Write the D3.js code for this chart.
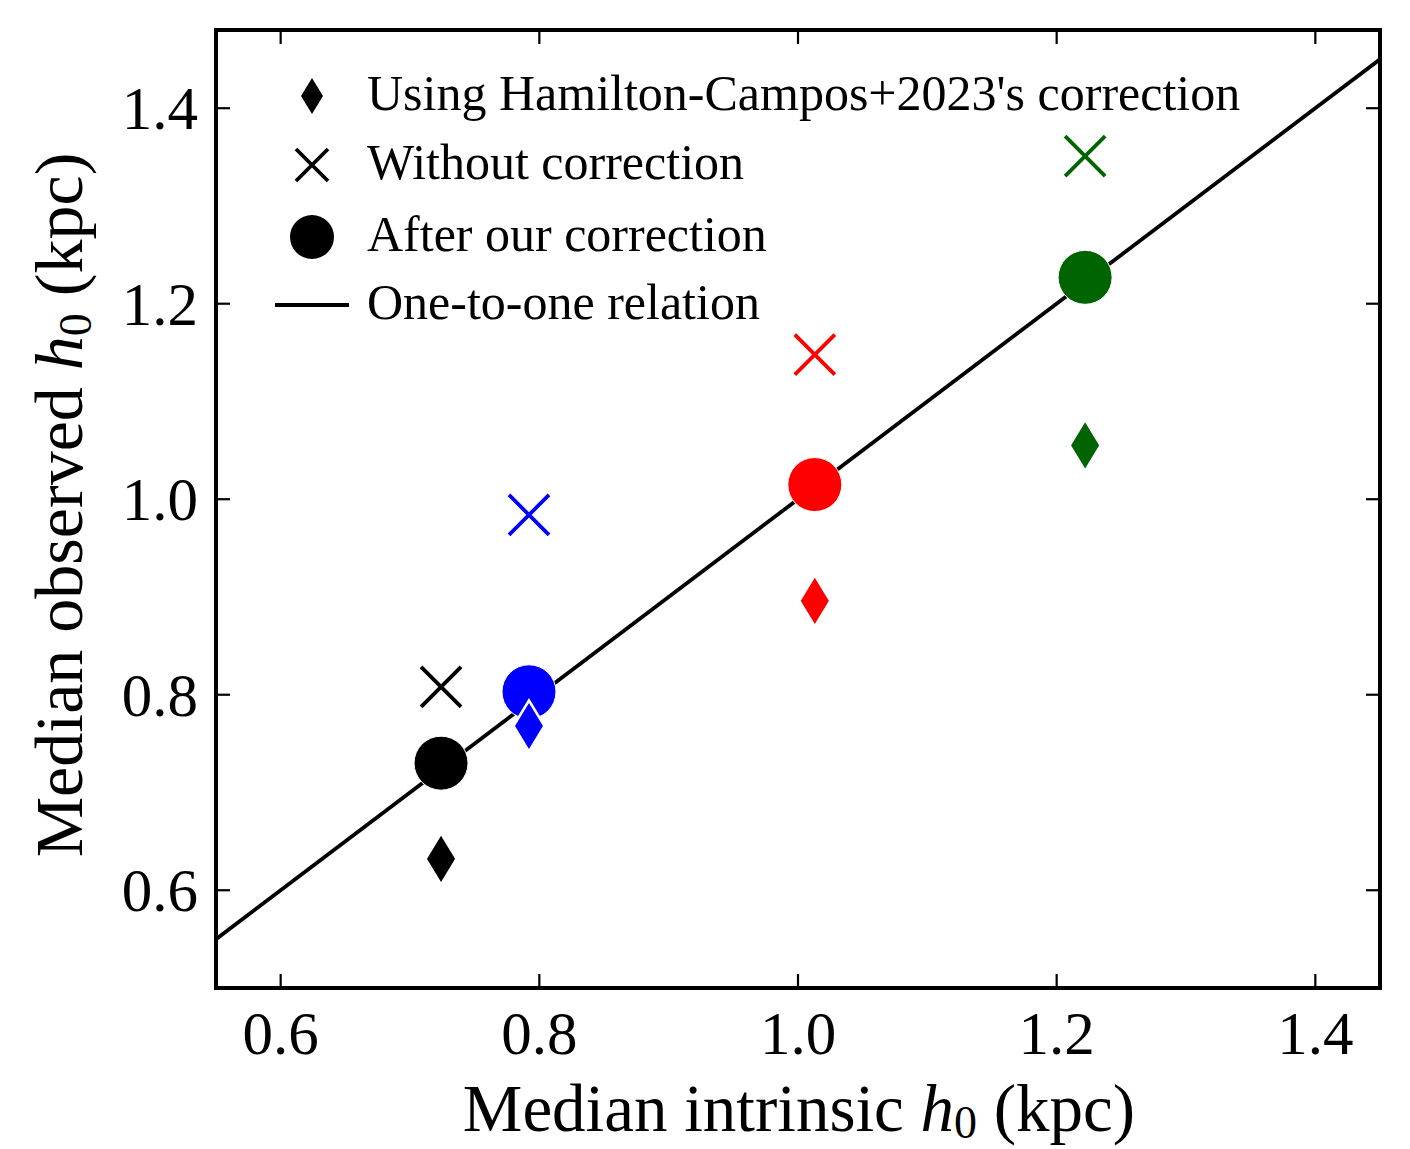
<!DOCTYPE html>
<html><head><meta charset="utf-8">
<script src="https://cdn.jsdelivr.net/npm/d3@7"></script>
<style>body{margin:0;background:#fff}svg{display:block}text{font-family:"Liberation Serif","Times New Roman",serif;fill:#000}</style>
</head><body><svg id="c" width="1410" height="1149"></svg>
<script>
// Data
const groups = ["g1", "g2", "g3", "g4"];
const colors = ["#000000", "#0000ff", "#ff0000", "#006400"];
const intrinsic = [0.724, 0.792, 1.013, 1.222];
const afterOurs = [0.730, 0.803, 1.015, 1.227];
const withoutCorr = [0.808, 0.984, 1.148, 1.351];
const hamiltonCorr = [0.632, 0.768, 0.896, 1.055];
const xTicks = [0.6, 0.8, 1.0, 1.2, 1.4];
const yTicks = [0.6, 0.8, 1.0, 1.2, 1.4];
const legendLabels = ["Using Hamilton-Campos+2023's correction", "Without correction", "After our correction", "One-to-one relation"];

const L = 216, R = 1380, T = 30, B = 988;
const svg = d3.select("#c");
const x = d3.scaleLinear().domain([0.55, 1.45]).range([L, R]);
const y = d3.scaleLinear().domain([0.5, 1.48]).range([B, T]);

svg.append("defs").append("clipPath").attr("id", "clip")
  .append("rect").attr("x", L).attr("y", T).attr("width", R - L).attr("height", B - T);

// one-to-one line
svg.append("line").attr("clip-path", "url(#clip)")
  .attr("x1", x(0.55)).attr("y1", y(0.55)).attr("x2", x(1.45)).attr("y2", y(1.45))
  .attr("stroke", "#000").attr("stroke-width", 3.8);

const diamond = (w, h) => `M0,${-h/2}L${w/2},0L0,${h/2}L${-w/2},0Z`;
const cross = (s) => `M${-s},${-s}L${s},${s}M${-s},${s}L${s},${-s}`;

const g = svg.append("g");
groups.forEach((k, i) => {
  g.append("path").attr("d", cross(20))
    .attr("transform", `translate(${x(intrinsic[i])},${y(withoutCorr[i])})`)
    .attr("stroke", colors[i]).attr("stroke-width", 3.8).attr("fill", "none");
});
groups.forEach((k, i) => {
  g.append("circle").attr("cx", x(intrinsic[i])).attr("cy", y(afterOurs[i])).attr("r", 27)
    .attr("fill", colors[i]).attr("stroke", "#fff").attr("stroke-width", 1);
});
groups.forEach((k, i) => {
  g.append("path").attr("d", diamond(31, 51))
    .attr("transform", `translate(${x(intrinsic[i])},${y(hamiltonCorr[i])})`)
    .attr("fill", colors[i]).attr("stroke", "#fff").attr("stroke-width", 2.5);
});

// frame
svg.append("rect").attr("x", L).attr("y", T).attr("width", R - L).attr("height", B - T)
  .attr("fill", "none").attr("stroke", "#000").attr("stroke-width", 4);

// ticks inward on all sides
const tl = 14;
xTicks.forEach(t => {
  svg.append("line").attr("x1", x(t)).attr("x2", x(t)).attr("y1", B).attr("y2", B - tl).attr("stroke", "#000").attr("stroke-width", 2.2);
  svg.append("line").attr("x1", x(t)).attr("x2", x(t)).attr("y1", T).attr("y2", T + tl).attr("stroke", "#000").attr("stroke-width", 2.2);
  svg.append("text").attr("x", x(t)).attr("y", 1054).attr("text-anchor", "middle").attr("font-size", 61).text(t.toFixed(1));
});
yTicks.forEach(t => {
  svg.append("line").attr("y1", y(t)).attr("y2", y(t)).attr("x1", L).attr("x2", L + tl).attr("stroke", "#000").attr("stroke-width", 2.2);
  svg.append("line").attr("y1", y(t)).attr("y2", y(t)).attr("x1", R).attr("x2", R - tl).attr("stroke", "#000").attr("stroke-width", 2.2);
  svg.append("text").attr("x", 198).attr("y", y(t) + 21).attr("text-anchor", "end").attr("font-size", 61).text(t.toFixed(1));
});

// axis labels
const xl = svg.append("text").attr("x", 799).attr("y", 1131).attr("text-anchor", "middle").attr("font-size", 67);
xl.append("tspan").text("Median intrinsic ");
xl.append("tspan").attr("font-style", "italic").text("h");
xl.append("tspan").attr("font-size", 46).attr("dy", 7).text("0");
xl.append("tspan").attr("dy", -7).text(" (kpc)");

const yl = svg.append("text").attr("transform", "translate(82,505) rotate(-90)").attr("text-anchor", "middle").attr("font-size", 68);
yl.append("tspan").text("Median observed ");
yl.append("tspan").attr("font-style", "italic").text("h");
yl.append("tspan").attr("font-size", 46).attr("dy", 9).text("0");
yl.append("tspan").attr("dy", -9).text(" (kpc)");

// legend
const lx = 312, ly = [96, 165, 237, 305], tx = 367;
svg.append("path").attr("d", diamond(22, 36)).attr("transform", `translate(${lx},${ly[0]})`).attr("fill", "#000");
svg.append("path").attr("d", cross(16)).attr("transform", `translate(${lx},${ly[1]})`).attr("stroke", "#000").attr("stroke-width", 3.8).attr("fill", "none");
svg.append("circle").attr("cx", lx).attr("cy", ly[2]).attr("r", 22).attr("fill", "#000");
svg.append("line").attr("x1", 275).attr("x2", 349).attr("y1", ly[3]).attr("y2", ly[3]).attr("stroke", "#000").attr("stroke-width", 3.8);
legendLabels.forEach((s, i) => {
  svg.append("text").attr("x", tx).attr("y", ly[i] + 14).attr("font-size", 50).text(s);
});
</script></body></html>
